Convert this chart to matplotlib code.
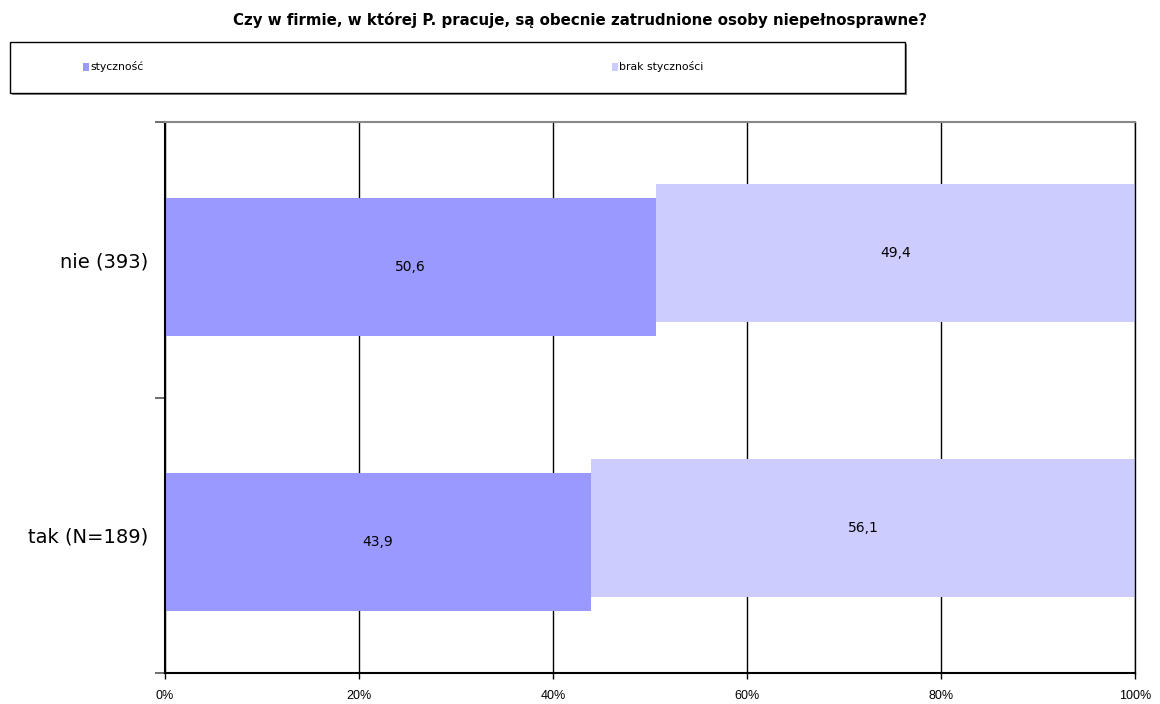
import matplotlib
matplotlib.use("Agg")
import matplotlib.pyplot as plt
from matplotlib.patches import Rectangle
import numpy as np

# Data
categories = ["tak (N=189)", "nie (393)"]
series_names = ["styczność", "brak styczności"]
stycznosc = [43.9, 50.6]
brak_stycznosci = [56.1, 49.4]
x_ticks = [0, 20, 40, 60, 80, 100]
x_tick_labels = ["0%", "20%", "40%", "60%", "80%", "100%"]
title = "Czy w firmie, w której P. pracuje, są obecnie zatrudnione osoby niepełnosprawne?"

colors = ["#9999ff", "#ccccff"]

W, H = 1160, 704
fig = plt.figure(figsize=(W / 100, H / 100), dpi=100)
fig.patch.set_facecolor("white")

ax = fig.add_axes([165 / W, 1 - 673 / H, (1135 - 165) / W, (673 - 122) / H])

pos = np.arange(len(categories)) + 0.5
bar_h = 0.5
shift = 0.025

ax.barh(pos - shift, stycznosc, height=bar_h, color=colors[0], zorder=2)
ax.barh(pos + shift, brak_stycznosci, left=stycznosc, height=bar_h,
        color=colors[1], zorder=2)

for i, (a, b) in enumerate(zip(stycznosc, brak_stycznosci)):
    ax.text(a / 2, pos[i] - shift, f"{a:.1f}".replace(".", ","),
            ha="center", va="center", fontsize=10, family="DejaVu Sans", zorder=3)
    ax.text(a + b / 2, pos[i] + shift, f"{b:.1f}".replace(".", ","),
            ha="center", va="center", fontsize=10, family="DejaVu Sans", zorder=3)

ax.set_xlim(0, 100)
ax.set_ylim(0, len(categories))

ax.set_xticks(x_ticks)
ax.set_xticklabels(x_tick_labels, fontsize=9, family="Liberation Sans")
ax.xaxis.grid(True, color="black", linewidth=1.0, zorder=1)
ax.set_axisbelow(True)

ax.set_yticks([0, 1, 2])
ax.set_yticklabels([])
ax.set_yticks(pos, minor=True)
ax.set_yticklabels(categories, minor=True, fontsize=14, family="DejaVu Sans")
ax.tick_params(axis="y", which="minor", length=0, pad=12)
ax.tick_params(axis="y", which="major", length=7, width=1.2, color="#555555")
ax.tick_params(axis="x", which="major", length=4, width=1, pad=8)

for side in ["left", "bottom"]:
    ax.spines[side].set_linewidth(1.5)
    ax.spines[side].set_color("black")
ax.spines["top"].set_color("#888888")
ax.spines["top"].set_linewidth(1.5)
ax.spines["right"].set_color("black")
ax.spines["right"].set_linewidth(1.0)

fig.text(0.5, 1 - 20 / H, title, ha="center", va="center",
         fontsize=10.8, fontweight="bold", family="DejaVu Sans")

# Legend box with a soft shadow
lx0, ly0, lx1, ly1 = 10, 42, 905, 93
fig.add_artist(Rectangle(((lx0 + 2) / W, 1 - (ly1 + 2) / H),
                         (lx1 - lx0) / W, (ly1 - ly0) / H,
                         transform=fig.transFigure, facecolor="#888888",
                         edgecolor="none", zorder=0))
fig.add_artist(Rectangle((lx0 / W, 1 - ly1 / H), (lx1 - lx0) / W, (ly1 - ly0) / H,
                         transform=fig.transFigure, facecolor="white",
                         edgecolor="black", linewidth=1.0, zorder=1))
for name, col, mx in zip(series_names, colors, [83, 612]):
    fig.add_artist(Rectangle((mx / W, 1 - 71 / H), 6 / W, 8 / H,
                             transform=fig.transFigure, facecolor=col,
                             edgecolor="none", zorder=2))
    fig.text((mx + 7) / W, 1 - 67 / H, name, ha="left", va="center",
             fontsize=7.8, family="DejaVu Sans", zorder=3)

fig.savefig("out.png", dpi=100, facecolor="white")
